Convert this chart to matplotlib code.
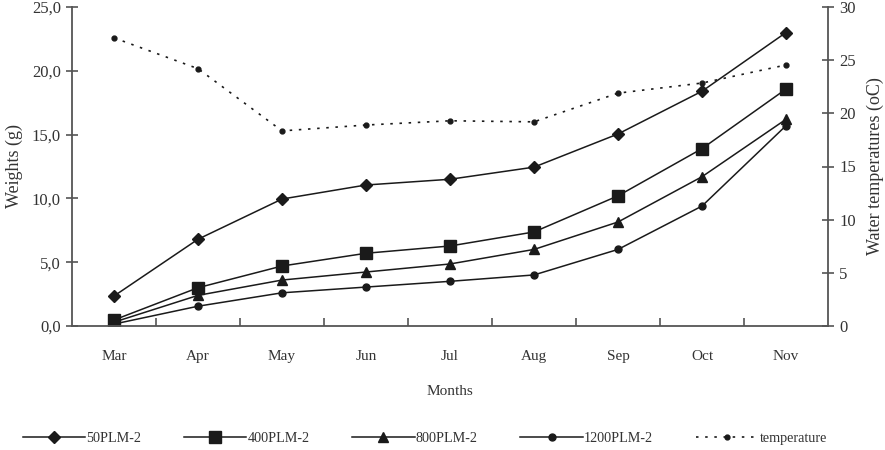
import matplotlib
matplotlib.use("Agg")
from matplotlib import pyplot as plt
from matplotlib.ticker import FuncFormatter

months = ['Mar', 'Apr', 'May', 'Jun', 'Jul', 'Aug', 'Sep', 'Oct', 'Nov']
w50 = [2.35, 6.8, 9.95, 11.05, 11.5, 12.45, 15.05, 18.4, 23.0]
w400 = [0.47, 3.0, 4.7, 5.7, 6.27, 7.37, 10.2, 13.9, 18.57]
w800 = [0.3, 2.4, 3.6, 4.23, 4.86, 6.0, 8.15, 11.7, 16.2]
w1200 = [0.15, 1.55, 2.6, 3.05, 3.5, 4.0, 6.0, 9.4, 15.7]
temperature = [27.1, 24.2, 18.35, 18.9, 19.3, 19.2, 21.9, 22.85, 24.55]

plt.rcParams['font.family'] = ['Liberation Serif', 'DejaVu Serif']
grey = '#555555'
txt = '#333333'

fig = plt.figure(figsize=(8.85, 4.5), dpi=100)
ax = fig.add_axes([0.0814, 0.2756, 0.8542, 0.7088])
ax2 = ax.twinx()

x = list(range(len(months)))
lw = 1.1
h1, = ax.plot(x, w50, color='#1a1a1a', lw=lw, marker='D', ms=6, label='50PLM-2')
h2, = ax.plot(x, w400, color='#1a1a1a', lw=lw, marker='s', ms=8, label='400PLM-2')
h3, = ax.plot(x, w800, color='#1a1a1a', lw=lw, marker='^', ms=7.5, label='800PLM-2')
h4, = ax.plot(x, w1200, color='#1a1a1a', lw=lw, marker='o', ms=5, label='1200PLM-2')
h5, = ax2.plot(x, temperature, color='#1a1a1a', lw=1.2, ls=(0, (1.5, 4)),
               marker='o', ms=3.5, label='temperature')

ax.set_xlim(-0.5, len(months) - 0.5)
ax.set_ylim(0, 25)
ax2.set_ylim(0, 30)
ax.set_yticks([0, 5, 10, 15, 20, 25])
ax.yaxis.set_major_formatter(FuncFormatter(lambda v, p: f'{v:.1f}'.replace('.', ',')))
ax2.set_yticks([0, 5, 10, 15, 20, 25, 30])

ax.set_xticks(x)
ax.set_xticklabels(months)
ax.set_xticks([i + 0.5 for i in range(len(months) - 1)], minor=True)
ax.tick_params(axis='x', which='major', length=0, pad=17, labelsize=11, labelcolor=txt)
ax.tick_params(axis='x', which='minor', direction='in', length=6, width=1.2, color=grey)
ax.tick_params(axis='y', direction='inout', length=9, width=1.2, color=grey,
               labelsize=12, labelcolor=txt)
ax2.tick_params(axis='y', direction='inout', length=9, width=1.2, color=grey,
                labelsize=12, labelcolor=txt)

for a in (ax, ax2):
    a.spines['top'].set_visible(False)
    for s in ('left', 'right', 'bottom'):
        a.spines[s].set_color(grey)
        a.spines[s].set_linewidth(1.3)
ax2.spines['left'].set_visible(False)
ax2.spines['bottom'].set_visible(False)
ax.spines['right'].set_visible(False)

ax.set_xlabel('Months', fontsize=11, color=txt, labelpad=16)
ax.set_ylabel('Weights (g)', fontsize=13, color=txt, labelpad=6)
ax2.set_ylabel('Water temperatures (oC)', fontsize=13, color=txt, labelpad=8)

fig.legend(handles=[h1, h2, h3, h4, h5], loc='lower center', ncol=5,
           bbox_to_anchor=(0.48, -0.018), frameon=False, handlelength=4.4,
           columnspacing=3.0, handletextpad=0.1, fontsize=10.2, labelcolor=txt)

fig.savefig('out.png', dpi=100)
